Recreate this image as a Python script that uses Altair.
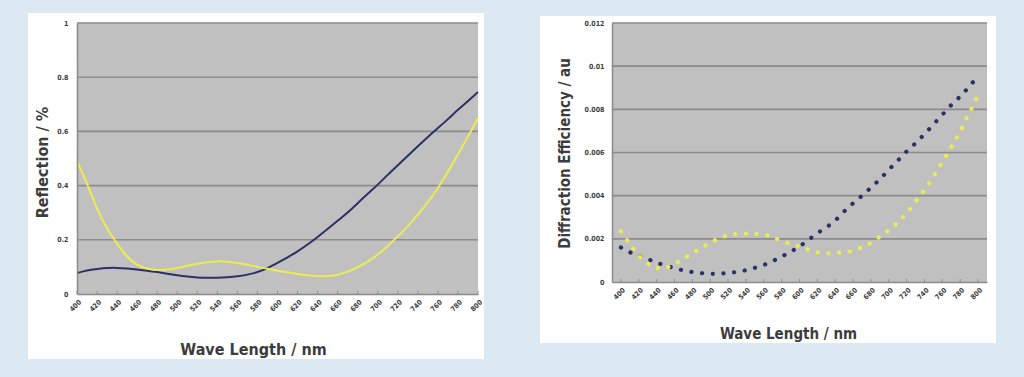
import altair as alt
import pandas as pd

# ---------------- data ----------------
wavelengths = [400, 410, 420, 430, 440, 450, 460, 470, 480, 490,
               500, 510, 520, 530, 540, 550, 560, 570, 580, 590,
               600, 610, 620, 630, 640, 650, 660, 670, 680, 690,
               700, 710, 720, 730, 740, 750, 760, 770, 780, 790, 800]

refl_blue = [0.077, 0.088, 0.092, 0.096, 0.097, 0.094, 0.090, 0.086, 0.081, 0.075,
             0.069, 0.064, 0.061, 0.060, 0.060, 0.062, 0.065, 0.071, 0.080, 0.095,
             0.115, 0.135, 0.157, 0.182, 0.210, 0.240, 0.270, 0.300, 0.335, 0.370,
             0.403, 0.440, 0.475, 0.510, 0.545, 0.580, 0.612, 0.645, 0.680, 0.712, 0.745]

refl_yellow = [0.490, 0.410, 0.310, 0.240, 0.185, 0.135, 0.105, 0.093, 0.088, 0.089,
               0.096, 0.104, 0.112, 0.118, 0.121, 0.120, 0.115, 0.108, 0.100, 0.093,
               0.086, 0.080, 0.074, 0.069, 0.066, 0.065, 0.070, 0.082, 0.098, 0.118,
               0.145, 0.177, 0.212, 0.250, 0.292, 0.338, 0.390, 0.450, 0.515, 0.580, 0.650]

diff_blue = [0.00160, 0.00138, 0.00120, 0.00106, 0.00090, 0.00076, 0.00064, 0.00054, 0.00046, 0.00041,
             0.00038, 0.00039, 0.00042, 0.00047, 0.00055, 0.00066, 0.00079, 0.00097, 0.00118, 0.00140,
             0.00165, 0.00195, 0.00226, 0.00253, 0.00285, 0.00327, 0.00365, 0.00400, 0.00437, 0.00476,
             0.00520, 0.00562, 0.00605, 0.00643, 0.00685, 0.00730, 0.00775, 0.00820, 0.00860, 0.00905, 0.00955]

diff_yellow = [0.00235, 0.00176, 0.00122, 0.00086, 0.00064, 0.00066, 0.00085, 0.00108, 0.00133, 0.00159,
               0.00182, 0.00202, 0.00216, 0.00222, 0.00224, 0.00223, 0.00220, 0.00207, 0.00190, 0.00177,
               0.00165, 0.00151, 0.00138, 0.00133, 0.00135, 0.00138, 0.00145, 0.00162, 0.00182, 0.00210,
               0.00240, 0.00276, 0.00320, 0.00372, 0.00427, 0.00488, 0.00555, 0.00625, 0.00698, 0.00782, 0.00865]

x_ticks = [400, 420, 440, 460, 480, 500, 520, 540, 560, 580, 600,
           620, 640, 660, 680, 700, 720, 740, 760, 780, 800]
refl_ticks = [0, 0.2, 0.4, 0.6, 0.8, 1]
diff_ticks = [0, 0.002, 0.004, 0.006, 0.008, 0.01, 0.012]

series_names = ["Sample A", "Sample B"]
BLUE = "#2b3166"
YELLOW = "#ecec52"
FONT = "DejaVu Sans Condensed"
TXT = "#3c3c3c"


def panel(values_a, values_b, y_ticks, y_title, W, H, x_domain, y_max,
          box, ytitle_xy, xtitle_xy, title_size, ytitle_size, label_pad, dotted):
    df = pd.DataFrame({
        "nm": wavelengths * 2,
        "value": values_a + values_b,
        "series": [series_names[0]] * len(wavelengths) + [series_names[1]] * len(wavelengths),
    })
    xscale = alt.Scale(domain=x_domain, nice=False, zero=False)
    yscale = alt.Scale(domain=[0, y_max], nice=False)
    xaxis = alt.Axis(values=x_ticks, labelAngle=-45, labelFont=FONT, labelFontSize=7,
                     labelFontWeight="bold", labelColor=TXT, ticks=False, grid=False,
                     domainColor="#8a8a8a", domainWidth=1.5, labelPadding=4,
                     title="Wave Length / nm", titleFont=FONT, titleFontSize=title_size,
                     titleFontWeight="bold", titleColor=TXT, titleX=xtitle_xy[0],
                     titleY=xtitle_xy[1], titleAlign="center", titleBaseline="middle",
                     zindex=1)
    yaxis = alt.Axis(values=y_ticks, format="~g", labelFont=FONT, labelFontSize=7,
                     labelFontWeight="bold", labelColor=TXT, ticks=False, grid=False,
                     domainColor="#8a8a8a", domainWidth=1.5, labelPadding=label_pad,
                     title=y_title, titleFont=FONT, titleFontSize=ytitle_size,
                     titleFontWeight="bold", titleColor=TXT, titleX=ytitle_xy[0],
                     titleY=ytitle_xy[1], titleAngle=-90, titleAlign="center",
                     titleBaseline="middle", zindex=1)

    one = pd.DataFrame({"k": [0]})
    white = alt.Chart(one).mark_rect(fill="white").encode(
        x=alt.value(box[0]), x2=alt.value(W + box[1]),
        y=alt.value(box[2]), y2=alt.value(H + box[3]))
    gray = alt.Chart(one).mark_rect(fill="#c0c0c0").encode(
        x=alt.value(0), x2=alt.value(W), y=alt.value(0), y2=alt.value(H))

    grid_df = pd.DataFrame({"value": y_ticks[1:]})
    grid = alt.Chart(grid_df).mark_rule(color="#8c8c8c", strokeWidth=1.6).encode(
        y=alt.Y("value:Q", scale=yscale, axis=yaxis))

    tick_df = pd.DataFrame({"nm": x_ticks})
    ticks = alt.Chart(tick_df).mark_rule(color="#8c8c8c", strokeWidth=1).encode(
        x=alt.X("nm:Q", scale=xscale, axis=xaxis),
        y=alt.value(H - 3), y2=alt.value(H))

    color = alt.Color("series:N", scale=alt.Scale(domain=series_names, range=[BLUE, YELLOW]),
                      legend=None)
    if dotted:
        line_mark = alt.Chart(df).mark_line(strokeWidth=4.2, strokeCap="round",
                                            strokeDash=[0.1, 10.6], interpolate="monotone")
    else:
        line_mark = alt.Chart(df).mark_line(strokeWidth=2, interpolate="basis")
    lines = line_mark.encode(
        x=alt.X("nm:Q", scale=xscale, axis=xaxis),
        y=alt.Y("value:Q", scale=yscale, axis=yaxis),
        color=color,
        detail="series:N",
    )
    return alt.layer(white, gray, grid, ticks, lines).properties(width=W, height=H)


left = panel(refl_blue, refl_yellow, refl_ticks, "Reflection / %", 401, 271,
             [400, 800], 1.0, (-49, 6, -10, 65), (-35, 139), (176, 55), 16, 16, 9, False)
right = panel(diff_blue, diff_yellow, diff_ticks, "Diffraction Efficiency / au", 375, 259,
              [390, 810], 0.012, (-72, 9, -7, 61), (-48, 130), (176, 51), 15, 15, 8, True)

chart = alt.hconcat(left, right, spacing=134, bounds="flush").properties(
    padding={"left": 28, "top": 13, "right": 28, "bottom": 18},
    background="#dde9f2",
).configure_view(stroke=None)

chart.save("out.html", embed_options={"renderer": "svg", "actions": False})
